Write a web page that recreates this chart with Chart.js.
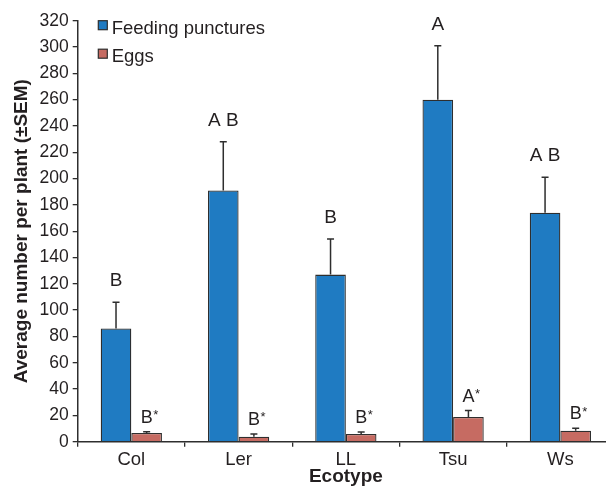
<!DOCTYPE html>
<html>
<head>
<meta charset="utf-8">
<script src="https://cdn.jsdelivr.net/npm/chart.js@4/dist/chart.umd.min.js"></script>
<style>
  html, body { margin: 0; padding: 0; background: #fff; overflow: hidden; }
  #wrap { width: 616px; height: 486px; }
</style>
</head>
<body>
<div id="wrap"><canvas id="chart" width="616" height="486"></canvas></div>
<script>
// Ecotypes on the x axis
const categories = ['Col', 'Ler', 'LL', 'Tsu', 'Ws'];

// Mean feeding punctures per plant and their SEM
const punctures = [86, 191, 127, 260, 174];
const punctureSem = [20, 37, 27, 41, 27];

// Mean eggs per plant and their SEM
const eggs = [6.6, 3.8, 5.9, 18.8, 8.4];
const eggSem = [1.0, 2.1, 1.5, 4.9, 1.8];

// Significance letters drawn above each error bar
const punctureLetters = ['B', 'A B', 'B', 'A', 'A B'];
const eggLetters = ['B*', 'B*', 'B*', 'A*', 'B*'];

// Y axis range and tick step
const yMin = 0;
const yMax = 320;
const yStep = 20;

const FONT = "'Liberation Sans', Arial, Helvetica, sans-serif";
const INK = '#231f20';
const LINE = '#2e2e2e';

Chart.defaults.font.family = FONT;
Chart.defaults.color = INK;

const series = [
  { label: 'Feeding punctures', data: punctures, sem: punctureSem, letters: punctureLetters, color: '#1f7bc2', lift: 16, size: 19 },
  { label: 'Eggs', data: eggs, sem: eggSem, letters: eggLetters, color: '#c66b62', lift: 9, size: 18 }
];

// Whiskers (upper half only) plus the letter groups above them
const errorBars = {
  id: 'errorBars',
  afterDatasetsDraw(chart) {
    const ctx = chart.ctx;
    const y = chart.scales.y;
    chart.data.datasets.forEach((ds, d) => {
      const meta = chart.getDatasetMeta(d);
      meta.data.forEach((bar, i) => {
        const top = y.getPixelForValue(ds.data[i] + ds.sem[i]);
        ctx.save();
        ctx.strokeStyle = LINE;
        ctx.lineWidth = 1.5;
        ctx.beginPath();
        ctx.moveTo(bar.x, bar.y);
        ctx.lineTo(bar.x, top);
        ctx.moveTo(bar.x - 3.5, top);
        ctx.lineTo(bar.x + 3.5, top);
        ctx.stroke();

        // letter(s), with a trailing asterisk set as a small superscript
        let txt = ds.letters[i];
        let star = false;
        if (txt.endsWith('*')) { star = true; txt = txt.slice(0, -1); }
        const base = top - ds.lift;
        ctx.fillStyle = INK;
        ctx.font = ds.size + 'px ' + FONT;
        ctx.textAlign = 'center';
        ctx.textBaseline = 'alphabetic';
        ctx.fillText(txt, bar.x, base);
        if (star) {
          const w = ctx.measureText(txt).width;
          ctx.font = '13px ' + FONT;
          ctx.textAlign = 'left';
          ctx.fillText('*', bar.x + w / 2 + 0.5, base - 3.5);
        }
        ctx.restore();
      });
    });
  }
};

// Legend placed inside the plot, top left
const insideLegend = {
  id: 'insideLegend',
  afterDraw(chart) {
    const ctx = chart.ctx;
    const area = chart.chartArea;
    const x0 = area.left + 20.6;
    chart.data.datasets.forEach((ds, d) => {
      const top = area.top + d * 28.5;
      ctx.save();
      ctx.fillStyle = ds.backgroundColor;
      ctx.strokeStyle = LINE;
      ctx.lineWidth = 1.2;
      ctx.fillRect(x0, top, 9, 9);
      ctx.strokeRect(x0, top, 9, 9);
      ctx.fillStyle = INK;
      ctx.font = '18.5px ' + FONT;
      ctx.textAlign = 'left';
      ctx.textBaseline = 'alphabetic';
      ctx.fillText(ds.label, x0 + 13.4, top + 12.8);
      ctx.restore();
    });
  }
};

new Chart(document.getElementById('chart'), {
  type: 'bar',
  data: {
    labels: categories,
    datasets: series.map(s => ({
      label: s.label,
      data: s.data,
      sem: s.sem,
      letters: s.letters,
      lift: s.lift,
      size: s.size,
      backgroundColor: s.color,
      borderColor: LINE,
      borderWidth: 1.3,
      categoryPercentage: 0.571,
      barPercentage: 1.0
    }))
  },
  options: {
    responsive: false,
    animation: false,
    devicePixelRatio: 1,
    layout: { padding: { left: 0, top: 20.7, right: 2, bottom: 0 } },
    plugins: {
      legend: { display: false },
      tooltip: { enabled: false }
    },
    scales: {
      x: {
        offset: true,
        grid: { offset: true, drawOnChartArea: false, drawTicks: true, tickLength: 5, color: LINE, lineWidth: 1.3 },
        border: { display: true, color: LINE, width: 1.5 },
        ticks: { font: { size: 18.5 }, color: INK, padding: 2 },
        title: {
          display: true,
          text: 'Ecotype',
          font: { size: 19, weight: 'bold', lineHeight: 0.8 },
          color: INK,
          padding: { top: 0, bottom: 1.4 }
        },
        afterFit(scale) { scale.height = 44.3; }
      },
      y: {
        min: yMin,
        max: yMax,
        grid: { drawOnChartArea: false, drawTicks: true, tickLength: 5, color: LINE, lineWidth: 1.3 },
        border: { display: true, color: LINE, width: 1.5 },
        ticks: { stepSize: yStep, font: { size: 17.5 }, color: INK, padding: 4 },
        title: {
          display: true,
          text: 'Average number per plant (±SEM)',
          font: { size: 19, weight: 'bold' },
          color: INK,
          padding: { top: 10.3, bottom: 0 }
        },
        afterFit(scale) { scale.width = 77.7; }
      }
    }
  },
  plugins: [errorBars, insideLegend]
});
</script>
</body>
</html>
